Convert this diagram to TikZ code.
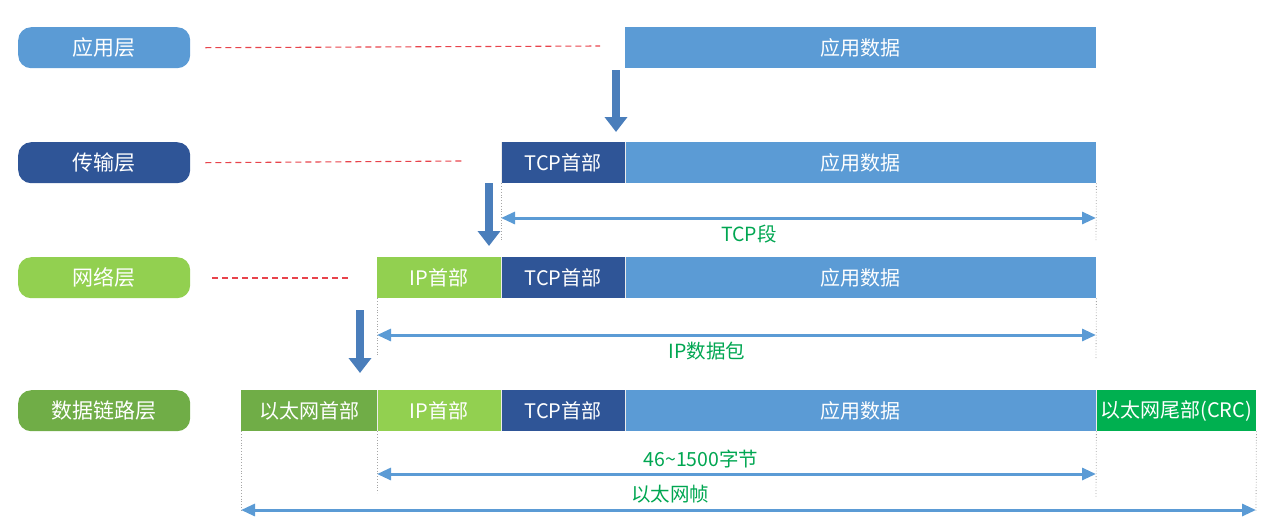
\documentclass[tikz,border=0pt]{standalone}
\usepackage{fontspec}
\setmainfont{Noto Sans CJK SC}
\usetikzlibrary{arrows.meta}
\definecolor{appblue}{HTML}{5B9BD5}
\definecolor{tcpblue}{HTML}{2F5597}
\definecolor{ipgreen}{HTML}{92D050}
\definecolor{ethgreen}{HTML}{70AD47}
\definecolor{crcgreen}{HTML}{00B050}
\definecolor{downblue}{HTML}{4A7EBB}
\definecolor{dashred}{HTML}{E8434B}
\definecolor{lblgreen}{HTML}{00A651}
\tikzset{
  layerpill/.style={fill=#1, text=white, rounded corners=13pt, minimum width=172pt, minimum height=41pt, inner sep=0pt, anchor=north west, font=\fontsize{21}{24}\selectfont},
  seg/.style={fill=#1, text=white, minimum height=41pt, inner sep=0pt, anchor=north west, font=\fontsize{20}{23}\selectfont},
  reddash/.style={draw=dashred, line width=1.1pt, dash pattern=on 6pt off 4pt},
  downarrow/.style={draw=downblue, line width=8pt, -{Triangle[width=22pt,length=15pt]}},
  spanarrow/.style={draw=appblue, line width=3pt, {Triangle[width=12pt,length=14pt]}-{Triangle[width=12pt,length=14pt]}},
  guide/.style={draw=gray!70, line width=0.8pt, dotted},
  spanlabel/.style={text=lblgreen, font=\fontsize{19.5}{22}\selectfont, inner sep=0pt}
}
\begin{document}
\begin{tikzpicture}[x=1pt,y=-1pt]
\useasboundingbox (0,0) rectangle (1268,523);
% layer pills
\node[layerpill=appblue] (L1) at (18,27) {应用层};
\node[layerpill=tcpblue] (L2) at (18,142) {传输层};
\node[layerpill=ipgreen] (L3) at (18,257) {网络层};
\node[layerpill=ethgreen] (L4) at (18,390) {数据链路层};
% row 1
\node[seg=appblue, minimum width=471pt] (a1) at (625,27) {应用数据};
% row 2
\node[seg=tcpblue, minimum width=124pt] (t2) at (501,142) {TCP首部};
\node[seg=appblue, minimum width=471pt] (a2) at (625,142) {应用数据};
% row 3
\node[seg=ipgreen, minimum width=124pt] (i3) at (377,257) {IP首部};
\node[seg=tcpblue, minimum width=124pt] (t3) at (501,257) {TCP首部};
\node[seg=appblue, minimum width=471pt] (a3) at (625,257) {应用数据};
% row 4
\node[seg=ethgreen, minimum width=136pt] (e4) at (241,390) {以太网首部};
\node[seg=ipgreen, minimum width=124pt] (i4) at (377,390) {IP首部};
\node[seg=tcpblue, minimum width=124pt] (t4) at (501,390) {TCP首部};
\node[seg=appblue, minimum width=471pt] (a4) at (625,390) {应用数据};
\node[seg=crcgreen, minimum width=160pt] (c4) at (1096,390) {以太网尾部(CRC)};
% separators
\foreach \n in {t2,t3,i4,t4,a4,c4,a2,a3}{\draw[white!85!gray, line width=0.6pt] (\n.north west) -- (\n.south west);}
% red dashed
\coordinate (d1) at (600,46);
\coordinate (d2) at (462,161);
\coordinate (d3) at (352,278);
\draw[reddash] ([xshift=15pt]L1.east) -- (d1);
\draw[reddash] ([xshift=15pt]L2.east) -- (d2);
\draw[reddash] ([xshift=22pt]L3.east |- d3) -- (d3);
% down arrows
\coordinate (p1s) at (616,70); \coordinate (p1e) at (616,132);
\coordinate (p2s) at (489,183); \coordinate (p2e) at (489,246);
\coordinate (p3s) at (360,310); \coordinate (p3e) at (360,373);
\draw[downarrow] (p1s) -- (p1e);
\draw[downarrow] (p2s) -- (p2e);
\draw[downarrow] (p3s) -- (p3e);
% guides
\coordinate (g2a) at (501,242); \coordinate (g2b) at (1096,242);
\draw[guide] (t2.south west) -- (g2a);
\draw[guide] (a2.south east) -- (g2b);
\coordinate (g3a) at (377,356); \coordinate (g3b) at (1096,358);
\draw[guide] (i3.south west) -- (g3a);
\draw[guide] (a3.south east) -- (g3b);
\coordinate (g4a) at (241,512); \coordinate (g4b) at (377,493);
\coordinate (g4c) at (1096,497); \coordinate (g4d) at (1256,512);
\draw[guide] (e4.south west) -- (g4a);
\draw[guide] (i4.south west) -- (g4b);
\draw[guide] (a4.south east) -- (g4c);
\draw[guide] (c4.south east) -- (g4d);
% span arrows
\coordinate (s1a) at (501,218); \coordinate (s1b) at (1096,218);
\draw[spanarrow] (s1a) -- (s1b);
\node[spanlabel] (tcpseg) at (749,234) {TCP段};
\coordinate (s2a) at (377,335); \coordinate (s2b) at (1096,335);
\draw[spanarrow] (s2a) -- (s2b);
\node[spanlabel] (ippkt) at (707,351) {IP数据包};
\coordinate (s3a) at (377,474); \coordinate (s3b) at (1096,474);
\draw[spanarrow] (s3a) -- (s3b);
\node[spanlabel] (bytes) at (701,459) {46\textasciitilde1500字节};
\coordinate (s4a) at (241,510); \coordinate (s4b) at (1256,510);
\draw[spanarrow] (s4a) -- (s4b);
\node[spanlabel] (frame) at (670,494) {以太网帧};
\end{tikzpicture}
\end{document}
